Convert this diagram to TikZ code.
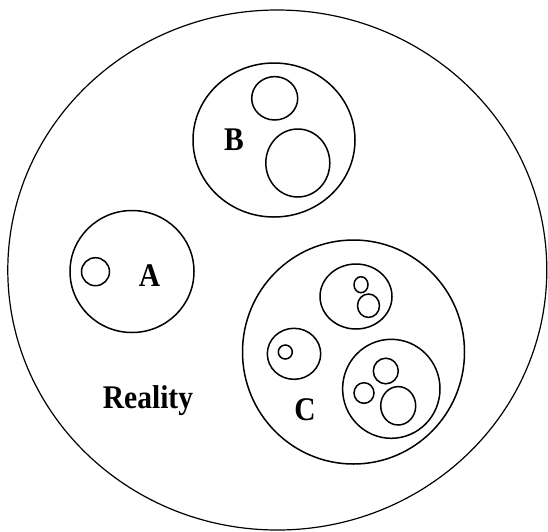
\documentclass[tikz,border=0pt]{standalone}
\usepackage{fontspec}
\setmainfont{Liberation Serif}
\usepackage{tikz}

\begin{document}
\begin{tikzpicture}[x=1pt, y=-1pt,
  world/.style={draw=black, line width=1.2pt},
  ring/.style={draw=black, line width=1.5pt},
  tag/.style={anchor=base, inner sep=0pt, font=\fontsize{29.5}{31}\selectfont\bfseries}
]
\useasboundingbox (0,0) rectangle (548,531);
% outer world
\draw[world] (277.3,270) ellipse [x radius=269.5pt, y radius=260pt];

% set A
\draw[ring] (132,271.5) ellipse [x radius=62pt, y radius=61pt];
\draw[ring] (95.5,271.7) ellipse [x radius=14pt, y radius=14pt];
\node[tag] (labA) at (149.5,286) {\scalebox{1}[1.12]{A}};

% set B
\draw[ring] (274,140) ellipse [x radius=81pt, y radius=77pt];
\draw[ring] (274.7,98.3) ellipse [x radius=23pt, y radius=21.7pt];
\draw[ring] (297.8,163) ellipse [x radius=32pt, y radius=34pt];
\node[tag] (labB) at (234,150) {\scalebox{1}[1.12]{B}};

% set C
\draw[ring] (353.5,352) ellipse [x radius=111pt, y radius=112pt];
\draw[ring] (356,296.5) ellipse [x radius=36pt, y radius=32.5pt];
\draw[ring] (361,284.7) ellipse [x radius=7pt, y radius=8pt];
\draw[ring] (368.5,305.7) ellipse [x radius=11pt, y radius=11.7pt];
\draw[ring] (294,353.8) ellipse [x radius=26.7pt, y radius=25.5pt];
\draw[ring] (285.3,352) ellipse [x radius=7pt, y radius=7pt];
\draw[ring] (391.3,388.8) ellipse [x radius=48.7pt, y radius=49.5pt];
\draw[ring] (385.8,371) ellipse [x radius=12.5pt, y radius=12.8pt];
\draw[ring] (364,393) ellipse [x radius=10pt, y radius=10.3pt];
\draw[ring] (398.2,405.8) ellipse [x radius=17.5pt, y radius=19.2pt];
\node[tag] (labC) at (305,420.7) {\scalebox{1}[1.12]{C}};

\node[tag] (reality) at (148,408.3) {\scalebox{1}[1.12]{Reality}};
\end{tikzpicture}
\end{document}
